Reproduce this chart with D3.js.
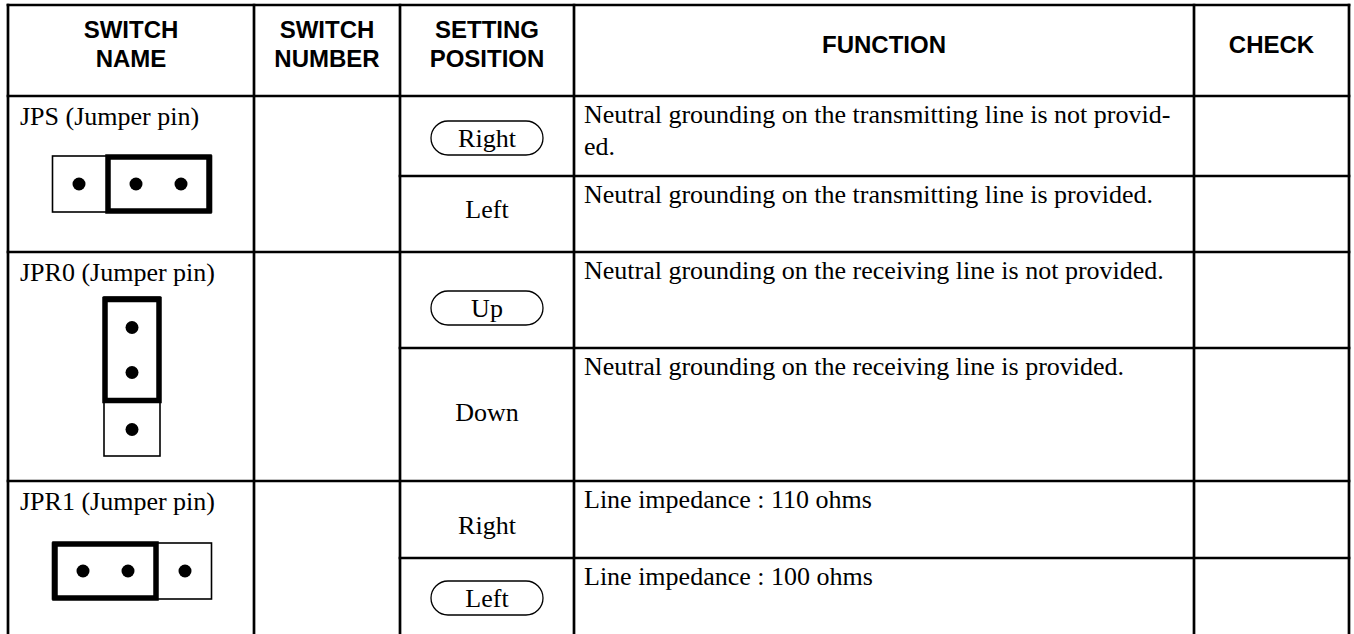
<!DOCTYPE html>
<html>
<head>
<meta charset="utf-8">
<script src="https://cdn.jsdelivr.net/npm/d3@7"></script>
<style>
  html, body { margin: 0; padding: 0; background: #fff; }
  svg { display: block; }
</style>
</head>
<body>
<svg id="chart" width="1354" height="634"></svg>
<script>
// ---------- data ----------
const headers = [["SWITCH", "NAME"], ["SWITCH", "NUMBER"], ["SETTING", "POSITION"], ["FUNCTION"], ["CHECK"]];
const switchNames = ["JPS (Jumper pin)", "JPR0 (Jumper pin)", "JPR1 (Jumper pin)"];
const switchNumbers = ["", "", ""];
const settingLabels = [["Right", "Left"], ["Up", "Down"], ["Right", "Left"]];
const selectedSetting = [0, 0, 1];
const functionLines = [
  [["Neutral grounding on the transmitting line is not provid-", "ed."],
   ["Neutral grounding on the transmitting line is provided."]],
  [["Neutral grounding on the receiving line is not provided."],
   ["Neutral grounding on the receiving line is provided."]],
  [["Line impedance : 110 ohms"],
   ["Line impedance : 100 ohms"]]
];
const jumperOrientation = ["horizontal", "vertical", "horizontal"];
const jumperShortedPins = [[1, 2], [0, 1], [0, 1]];

// ---------- layout ----------
const W = 1354, H = 634;
const colEdges = [8, 254, 400, 574, 1194, 1349];
const headerTop = 5;
const rowEdges = [96, 176, 252, 348, 481, 558, 634];
const settingCenterDy = [2, -5, 8, -3, 5, 2];
const jumperTopOffset = [60, 45, 62];
const cell = 53;

const svg = d3.select("#chart");
svg.append("rect").attr("width", W).attr("height", H).attr("fill", "#fff");

const x = d3.scaleLinear().domain(d3.range(colEdges.length)).range(colEdges);
const y = d3.scaleLinear().domain(d3.range(rowEdges.length)).range(rowEdges);
const colMid = i => (x(i) + x(i + 1)) / 2;

const lineW = 2.7;
const grid = svg.append("g").attr("stroke", "#000").attr("stroke-width", lineW);

// vertical lines
grid.selectAll("line.v").data(colEdges).join("line")
  .attr("x1", d => d).attr("x2", d => d)
  .attr("y1", headerTop - lineW / 2).attr("y2", H);
// top line and header bottom
grid.selectAll("line.h").data([headerTop, y(0)]).join("line")
  .attr("x1", x(0) - lineW / 2).attr("x2", x(5) + lineW / 2)
  .attr("y1", d => d).attr("y2", d => d);
// group boundaries (full width) and sub rows (setting..check)
const subRows = d3.range(1, rowEdges.length - 1);
grid.selectAll("line.r").data(subRows).join("line")
  .attr("x1", i => (i % 2 === 0 ? x(0) : x(2)) - lineW / 2)
  .attr("x2", x(5) + lineW / 2)
  .attr("y1", i => y(i)).attr("y2", i => y(i));

// header text
const hdr = svg.append("g")
  .attr("font-family", "'Liberation Sans', Arial, sans-serif")
  .attr("font-weight", "bold").attr("font-size", 24)
  .attr("text-anchor", "middle").attr("fill", "#000");
headers.forEach((lines, ci) => {
  const base = lines.length === 2 ? [38, 67] : [53];
  lines.forEach((t, li) => {
    hdr.append("text").attr("x", colMid(ci)).attr("y", base[li]).text(t);
  });
});

// body
const body = svg.append("g")
  .attr("font-family", "'Liberation Serif', 'Times New Roman', serif")
  .attr("font-size", 26).attr("fill", "#000");

switchNames.forEach((name, g) => {
  const top = y(g * 2);
  body.append("text").attr("x", x(0) + 12).attr("y", top + 29).text(name);

  // jumper
  const orient = jumperOrientation[g];
  const jt = top + jumperTopOffset[g];
  const cx = colMid(0) + 1;
  const len = cell * 3, thick = cell + 3;
  const pinScale = d3.scaleLinear().domain([0, 3]).range([0, len]);
  const jg = body.append("g");
  let bx, by, bw, bh;
  if (orient === "horizontal") { bx = cx - len / 2; by = jt; bw = len; bh = thick; }
  else { bx = cx - thick / 2; by = jt; bw = thick; bh = len; }
  jg.append("rect").attr("x", bx).attr("y", by).attr("width", bw).attr("height", bh)
    .attr("fill", "none").attr("stroke", "#000").attr("stroke-width", 1.6);
  const pair = jumperShortedPins[g];
  const p0 = pinScale(pair[0]), p1 = pinScale(pair[1] + 1);
  if (orient === "horizontal") {
    jg.append("rect").attr("x", bx + p0 + 2.5).attr("y", by + 1).attr("width", p1 - p0 - 5).attr("height", bh - 2)
      .attr("fill", "none").attr("stroke", "#000").attr("stroke-width", 5.5);
  } else {
    jg.append("rect").attr("x", bx + 1).attr("y", by + p0 + 2.5).attr("width", bw - 2).attr("height", p1 - p0 - 5)
      .attr("fill", "none").attr("stroke", "#000").attr("stroke-width", 5.5);
  }
  // pins
  const pinPos = [0, 1, 2].map(p => {
    let c = pinScale(p + 0.5);
    if (pair.includes(p)) {
      const inward = p === pair[0] ? 4 : -4;
      c += inward;
    }
    return c;
  });
  jg.selectAll("circle").data(pinPos).join("circle")
    .attr("cx", d => orient === "horizontal" ? bx + d : bx + bw / 2)
    .attr("cy", d => orient === "horizontal" ? by + bh / 2 : by + d)
    .attr("r", 6.5).attr("fill", "#000");

  // settings and functions
  settingLabels[g].forEach((lab, s) => {
    const r = g * 2 + s;
    const cy = (y(r) + y(r + 1)) / 2 + settingCenterDy[r];
    if (selectedSetting[g] === s) {
      body.append("rect").attr("x", colMid(2) - 56).attr("y", cy - 17)
        .attr("width", 112).attr("height", 34).attr("rx", 17).attr("ry", 17)
        .attr("fill", "none").attr("stroke", "#000").attr("stroke-width", 1.3);
    }
    body.append("text").attr("x", colMid(2)).attr("y", cy + 9)
      .attr("text-anchor", "middle").text(lab);
    functionLines[g][s].forEach((ln, li) => {
      body.append("text").attr("x", x(3) + 10).attr("y", y(r) + 27 + li * 32).text(ln);
    });
  });
});
</script>
</body>
</html>
